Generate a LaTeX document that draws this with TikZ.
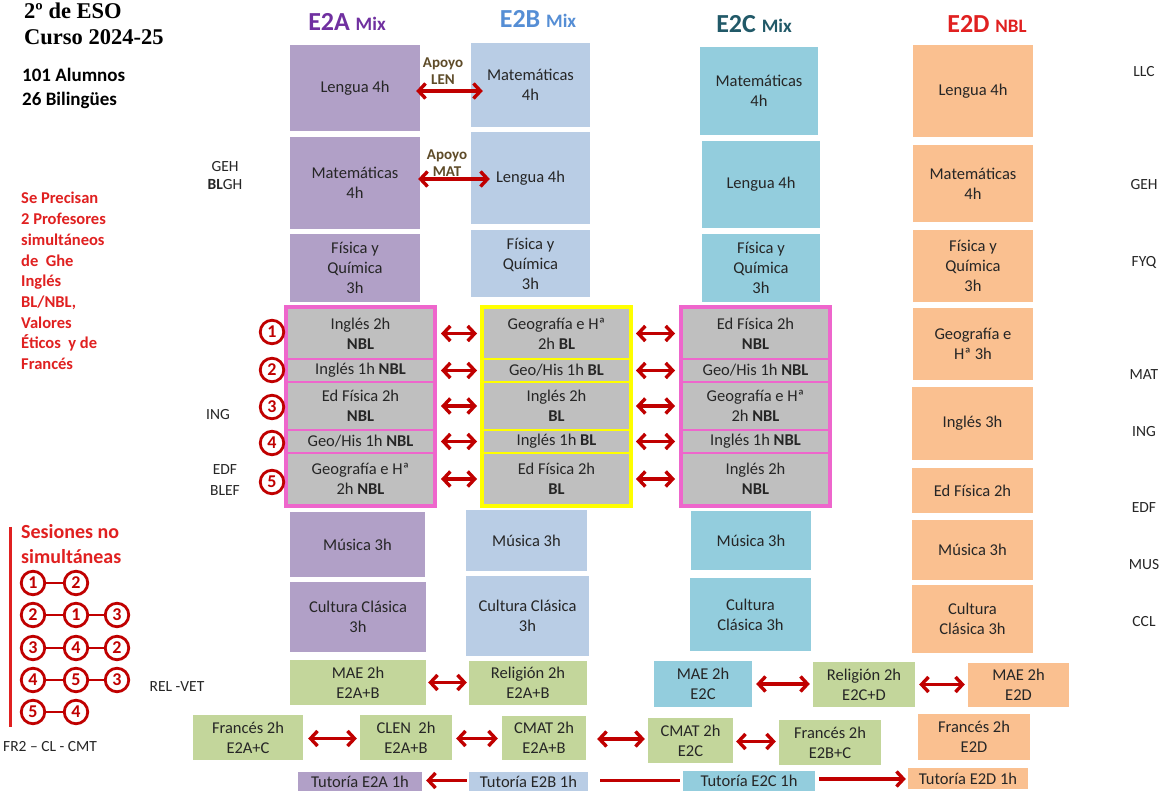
\documentclass[tikz,border=0pt]{standalone}
\usepackage{fontspec}
\setmainfont{Carlito}
\newfontfamily\titlefont{Liberation Serif}
\usetikzlibrary{arrows.meta}
\definecolor{cA}{HTML}{B1A0C7}
\definecolor{cB}{HTML}{B9CDE5}
\definecolor{cC}{HTML}{93CDDD}
\definecolor{cD}{HTML}{FAC090}
\definecolor{cG}{HTML}{C3D69B}
\definecolor{cellgrey}{HTML}{BFBFBF}
\definecolor{pinkc}{HTML}{EE66CC}
\definecolor{yel}{HTML}{FFFF00}
\definecolor{arrred}{HTML}{C00000}
\definecolor{textred}{HTML}{E02020}
\definecolor{txt}{HTML}{262626}
\definecolor{hA}{HTML}{7030A0}
\definecolor{hB}{HTML}{558ED5}
\definecolor{hC}{HTML}{215968}
\definecolor{apoyo}{HTML}{5E4B28}
\newcommand\mybox[7]{%
  \pgfmathsetmacro\cx{(#3+#5)/2}\pgfmathsetmacro\cy{(#4+#6)/2}%
  \pgfmathsetmacro\ww{#5-#3}\pgfmathsetmacro\hh{#6-#4}%
  \node[#2, minimum width=\ww pt, minimum height=\hh pt] (#1) at (\cx,\cy) {#7};}
\begin{document}
\begin{tikzpicture}[x=1pt,y=-1pt,
  box/.style={rectangle, inner sep=1pt, align=center, text=txt, font=\fontsize{16.5}{20}\selectfont},
  bA/.style={box, fill=cA}, bB/.style={box, fill=cB}, bC/.style={box, fill=cC},
  bD/.style={box, fill=cD}, bG/.style={box, fill=cG},
  cellP/.style={box, fill=cellgrey, draw=pinkc, line width=2pt},
  cellY/.style={box, fill=cellgrey, draw=yel, line width=2pt},
  dbl/.style={draw=arrred, line width=3.4pt, {Straight Barb[length=7pt,width=15pt]}-{Straight Barb[length=7pt,width=15pt]}},
  sgl/.style={draw=arrred, line width=3.4pt, -{Straight Barb[length=7pt,width=15pt]}},
  numc/.style={circle, draw=arrred, line width=2.8pt, minimum size=23.5pt, inner sep=0pt, text=arrred, font=\bfseries\fontsize{18}{18}\selectfont},
  lab/.style={text=txt, font=\fontsize{15.5}{18}\selectfont, inner sep=0pt},
  redtxt/.style={text=textred, font=\bfseries\fontsize{16.5}{20}\selectfont, inner sep=0pt},
  apo/.style={text=apoyo, font=\bfseries\fontsize{15}{17}\selectfont, inner sep=0pt}
]
\useasboundingbox (0,0) rectangle (1171,791);
\fill[white] (0,0) rectangle (1171,791);

% titles
\node[anchor=base west, inner sep=0pt, font=\titlefont\bfseries\fontsize{22.5}{24}\selectfont] (ti1) at (24,19) {2º de ESO};
\node[anchor=base west, inner sep=0pt, font=\titlefont\bfseries\fontsize{22.5}{24}\selectfont] (ti2) at (24,45) {Curso 2024-25};
\node[anchor=base west, inner sep=0pt, font=\bfseries\fontsize{19}{22}\selectfont] (al1) at (22,82) {101 Alumnos};
\node[anchor=base west, inner sep=0pt, font=\bfseries\fontsize{19}{22}\selectfont] (al2) at (22,106) {26 Bilingües};
\foreach \t [count=\i] in {Se Precisan, 2 Profesores, simultáneos, de~~Ghe, Inglés, {BL/NBL,}, Valores, Éticos~~y de, Francés}
  \node[redtxt, anchor=base west] (sp\i) at (21, 183.3+20.7*\i) {\t};

% headers
\node[anchor=base, inner sep=0pt, text=hA, font=\bfseries] (HA) at (347,31) {\fontsize{26}{28}\selectfont E2A \fontsize{19}{20}\selectfont Mix};
\node[anchor=base, inner sep=0pt, text=hB, font=\bfseries] (HB) at (538,28) {\fontsize{26}{28}\selectfont E2B \fontsize{19}{20}\selectfont Mix};
\node[anchor=base, inner sep=0pt, text=hC, font=\bfseries] (HC) at (754,33) {\fontsize{26}{28}\selectfont E2C \fontsize{19}{20}\selectfont Mix};
\node[anchor=base, inner sep=0pt, text=textred, font=\bfseries] (HD) at (987,33) {\fontsize{26}{28}\selectfont E2D \fontsize{19}{20}\selectfont NBL};

% column E2A
\mybox{A1}{bA}{290}{45}{420}{131}{Lengua 4h}
\mybox{A2}{bA}{290}{137}{420}{229}{Matemáticas\\4h}
\mybox{A3}{bA}{290}{234}{420}{302}{Física y\\Química\\3h}
\mybox{A6}{bA}{290}{512}{425}{577}{Música 3h}
\mybox{A7}{bA}{290}{582}{426}{652}{Cultura Clásica\\3h}
% column E2B
\mybox{B1}{bB}{471}{43}{590}{127}{Matemáticas\\4h}
\mybox{B2}{bB}{471}{132}{590}{224}{Lengua 4h}
\mybox{B3}{bB}{471}{230}{590}{297}{Física y\\Química\\3h}
\mybox{B6}{bB}{466}{510}{587}{571}{Música 3h}
\mybox{B7}{bB}{466}{576}{589}{656}{Cultura Clásica\\3h}
% column E2C
\mybox{C1}{bC}{700}{47}{818}{135}{Matemáticas\\4h}
\mybox{C2}{bC}{702}{141}{820}{228}{Lengua 4h}
\mybox{C3}{bC}{702}{234}{820}{302}{Física y\\Química\\3h}
\mybox{C6}{bC}{691}{511}{811}{570}{Música 3h}
\mybox{C7}{bC}{690}{578}{811}{651}{Cultura\\Clásica 3h}
% column E2D
\mybox{D1}{bD}{913}{45}{1033}{137}{Lengua 4h}
\mybox{D2}{bD}{913}{145}{1033}{222}{Matemáticas\\4h}
\mybox{D3}{bD}{913}{230}{1033}{302}{Física y\\Química\\3h}
\mybox{D4}{bD}{913}{308}{1033}{380}{Geografía e\\Hª 3h}
\mybox{D5}{bD}{912}{387}{1033}{460}{Inglés 3h}
\mybox{D6}{bD}{912}{468}{1033}{513}{Ed Física 2h}
\mybox{D7}{bD}{912}{520}{1033}{580}{Música 3h}
\mybox{D8}{bD}{912}{585}{1033}{653}{Cultura\\Clásica 3h}

% grouped rows
\mybox{a1}{cellP}{287}{308}{434}{359}{Inglés 2h\\\textbf{NBL}}
\mybox{a2}{cellP}{287}{359}{434}{382}{Inglés 1h \textbf{NBL}}
\mybox{a3}{cellP}{287}{382}{434}{430}{Ed Física 2h\\\textbf{NBL}}
\mybox{a4}{cellP}{287}{430}{434}{453}{Geo/His 1h \textbf{NBL}}
\mybox{a5}{cellP}{287}{453}{434}{505}{Geografía e Hª\\2h \textbf{NBL}}
\mybox{b1}{cellY}{483}{308}{630}{359}{Geografía e Hª\\2h \textbf{BL}}
\mybox{b2}{cellY}{483}{359}{630}{382}{Geo/His 1h \textbf{BL}}
\mybox{b3}{cellY}{483}{382}{630}{430}{Inglés 2h\\\textbf{BL}}
\mybox{b4}{cellY}{483}{430}{630}{453}{Inglés 1h \textbf{BL}}
\mybox{b5}{cellY}{483}{453}{630}{505}{Ed Física 2h\\\textbf{BL}}
\mybox{c1}{cellP}{682}{308}{829}{359}{Ed Física 2h\\\textbf{NBL}}
\mybox{c2}{cellP}{682}{359}{829}{382}{Geo/His 1h \textbf{NBL}}
\mybox{c3}{cellP}{682}{382}{829}{430}{Geografía e Hª\\2h \textbf{NBL}}
\mybox{c4}{cellP}{682}{430}{829}{453}{Inglés 1h \textbf{NBL}}
\mybox{c5}{cellP}{682}{453}{829}{505}{Inglés 2h\\\textbf{NBL}}
\draw[pinkc, line width=3.5pt] (a1.north west) rectangle (a5.south east);
\draw[yel, line width=3.5pt] (b1.north west) rectangle (b5.south east);
\draw[pinkc, line width=3.5pt] (c1.north west) rectangle (c5.south east);
\foreach \i in {1,...,5}{
  \draw[dbl, shorten <=6pt, shorten >=5pt] (a\i.east) -- (a\i.east -| b\i.west);
  \draw[dbl, shorten <=5pt, shorten >=6pt] (b\i.east) -- (b\i.east -| c\i.west);
}

% Apoyo
\node[apo, align=center] (ap1) at (443,71) {Apoyo\\LEN};
\node[apo, align=center] (ap2) at (447,163) {Apoyo\\MAT};
\draw[dbl, shorten <=-4pt, shorten >=-12pt] ([yshift=-3pt]A1.east) -- ([yshift=-3pt]A1.east -| B1.west);
\draw[dbl, shorten <=-2pt, shorten >=-19pt] ([yshift=4pt]A2.east) -- ([yshift=4pt]A2.east -| B2.west);

% numbered circles
\node[numc] (n1) at (272,332) {1};
\node[numc] (n2) at (272,370) {2};
\node[numc] (n3) at (272,407) {3};
\node[numc] (n4) at (272,443) {4};
\node[numc] (n5) at (272,482) {5};

% left labels
\node[lab] (lg1) at (225,167) {GEH};
\node[lab] (lg2) at (225,185) {\textbf{BL}GH};
\node[lab] (li) at (218,415) {ING};
\node[lab] (le1) at (225,470) {EDF};
\node[lab] (le2) at (225,491) {BLEF};
\node[lab] (rv) at (177,687) {REL -VET};
\node[lab, anchor=west] (fr) at (3,747) {FR2 -- CL - CMT};

% right labels
\node[lab] (r1) at (1144,72) {LLC};
\node[lab] (r2) at (1144,185) {GEH};
\node[lab] (r3) at (1144,262) {FYQ};
\node[lab] (r4) at (1144,375) {MAT};
\node[lab] (r5) at (1144,432) {ING};
\node[lab] (r6) at (1144,508) {EDF};
\node[lab] (r7) at (1144,565) {MUS};
\node[lab] (r8) at (1144,622) {CCL};

% sesiones no simultaneas
\draw[textred, line width=3pt] (10,527) -- (10,727);
\node[anchor=base west, inner sep=0pt, text=textred, font=\bfseries\fontsize{20}{24}\selectfont] (ses1) at (21,539) {Sesiones no};
\node[anchor=base west, inner sep=0pt, text=textred, font=\bfseries\fontsize{20}{24}\selectfont] (ses2) at (21,563) {simultáneas};
\node[numc] (s11) at (33,583) {1}; \node[numc] (s12) at (76,583) {2};
\node[numc] (s21) at (33,615) {2}; \node[numc] (s22) at (76,615) {1}; \node[numc] (s23) at (117,615) {3};
\node[numc] (s31) at (33,648) {3}; \node[numc] (s32) at (76,648) {4}; \node[numc] (s33) at (117,648) {2};
\node[numc] (s41) at (33,680) {4}; \node[numc] (s42) at (76,680) {5}; \node[numc] (s43) at (117,680) {3};
\node[numc] (s51) at (33,712) {5}; \node[numc] (s52) at (76,712) {4};
\draw[arrred, line width=2.8pt] (s11) -- (s12) (s21) -- (s22) -- (s23) (s31) -- (s32) -- (s33) (s41) -- (s42) -- (s43) (s51) -- (s52);

% bottom rows
\mybox{m1}{bG}{290}{660}{426}{705}{MAE 2h\\E2A+B}
\mybox{m2}{bG}{469}{661}{587}{705}{Religión 2h\\E2A+B}
\mybox{m3}{bC}{654}{661}{752}{707}{MAE 2h\\E2C}
\mybox{m4}{bG}{813}{662}{915}{707}{Religión 2h\\E2C+D}
\mybox{m5}{bD}{968}{663}{1069}{707}{MAE 2h\\E2D}
\draw[dbl, shorten <=2pt, shorten >=2pt] (m1.east) -- (m1.east -| m2.west);
\draw[dbl, shorten <=4pt, shorten >=3pt] (m3.east) -- (m3.east -| m4.west);
\draw[dbl, shorten <=4pt, shorten >=3pt] (m4.east) -- (m4.east -| m5.west);

\mybox{f1}{bG}{193}{715}{303}{760}{Francés 2h\\E2A+C}
\mybox{f2}{bG}{360}{715}{452}{760}{CLEN~~2h\\E2A+B}
\mybox{f3}{bG}{502}{716}{586}{760}{CMAT 2h\\E2A+B}
\mybox{f4}{bG}{648}{718}{733}{763}{CMAT 2h\\E2C}
\mybox{f5}{bG}{779}{720}{881}{765}{Francés 2h\\E2B+C}
\mybox{f6}{bD}{918}{714}{1030}{760}{Francés 2h\\E2D}
\draw[dbl, shorten <=5pt, shorten >=3pt] ([yshift=-1pt]f1.east) -- ([yshift=-1pt]f1.east -| f2.west);
\draw[dbl, shorten <=4pt, shorten >=4pt] ([yshift=-1pt]f2.east) -- ([yshift=-1pt]f2.east -| f3.west);
\draw[dbl, shorten <=11pt, shorten >=3pt] ([yshift=-1pt]f3.east) -- ([yshift=-1pt]f3.east -| f4.west);
\draw[dbl, shorten <=3pt, shorten >=3pt] ([yshift=-1pt]f4.east) -- ([yshift=-1pt]f4.east -| f5.west);

\mybox{t1}{bA}{298}{772}{422}{791}{Tutoría E2A 1h}
\mybox{t2}{bB}{469}{772}{588}{791}{Tutoría E2B 1h}
\mybox{t3}{bC}{683}{771}{815}{791}{Tutoría E2C 1h}
\mybox{t4}{bD}{908}{768}{1028}{789}{Tutoría E2D 1h}
\draw[sgl, shorten <=2pt, shorten >=4pt] ([yshift=1pt]t2.west) -- ([yshift=1pt]t2.west -| t1.east);
\draw[draw=arrred, line width=3.4pt, shorten <=12pt, shorten >=3pt] ([yshift=1pt]t2.east) -- ([yshift=1pt]t2.east -| t3.west);
\draw[sgl, shorten <=4pt, shorten >=2pt] ([yshift=2pt]t3.east) -- ([yshift=2pt]t3.east -| t4.west);
\end{tikzpicture}
\end{document}
